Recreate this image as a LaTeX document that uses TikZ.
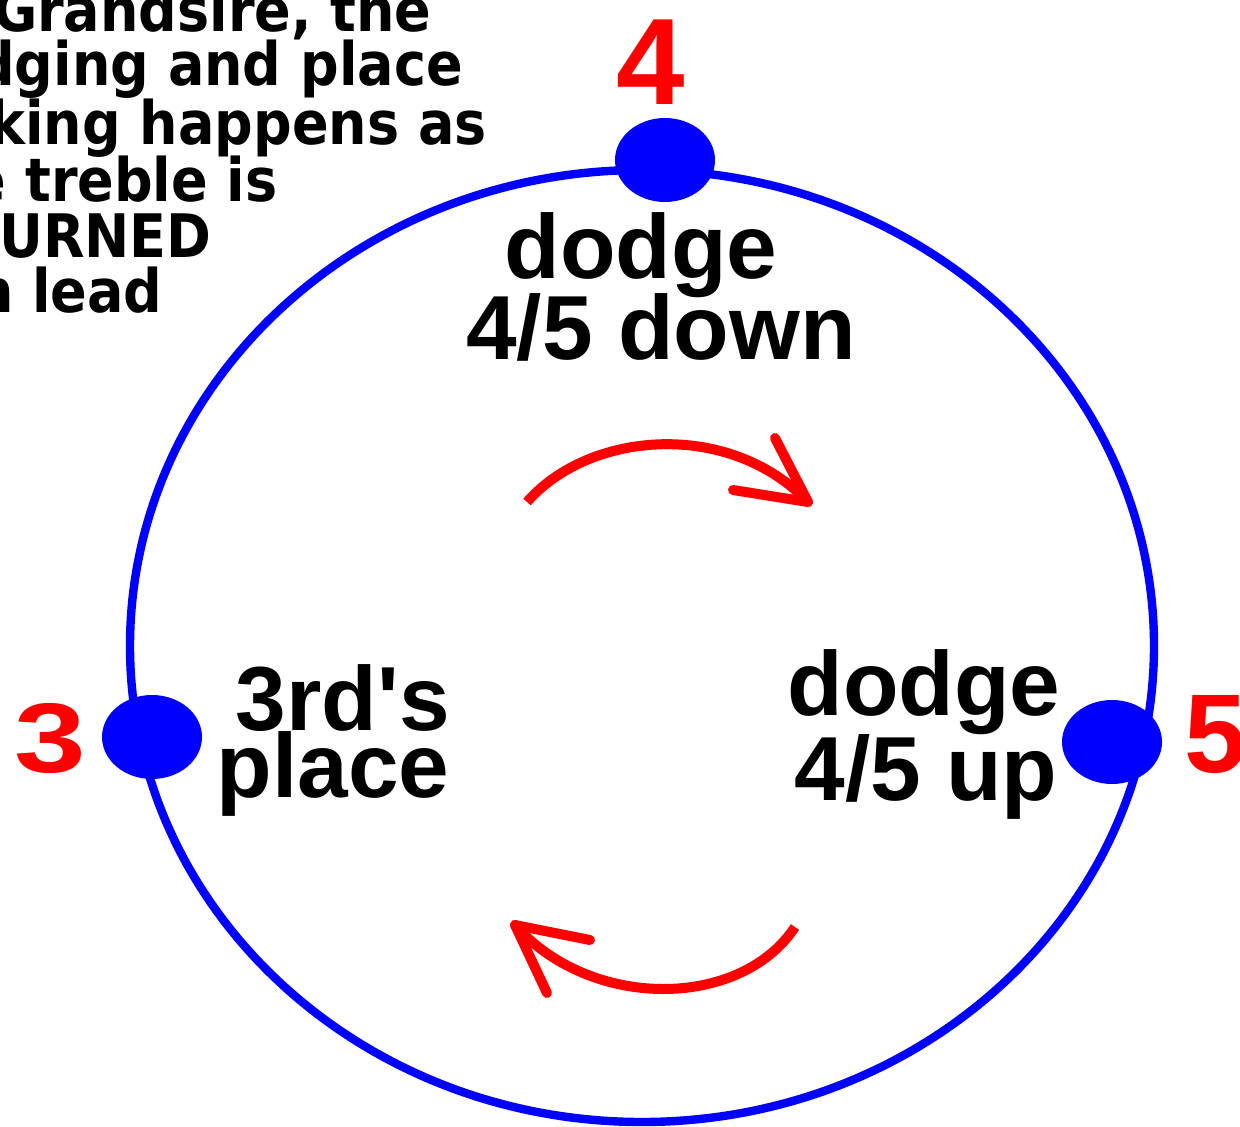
\documentclass[tikz,border=0pt]{standalone}
\usepackage{fontspec}
\setmainfont{Liberation Sans}
\newfontfamily\notefont{DejaVu Sans}[FakeStretch=0.9]
\usepackage{graphicx}
\usetikzlibrary{positioning, shapes.geometric}
\definecolor{bellblue}{RGB}{0,0,255}
\definecolor{bellred}{RGB}{255,0,0}

\begin{document}
\begin{tikzpicture}[x=0.5pt, y=-0.5pt,
    ring/.style={draw=bellblue, line width=4.2pt},
    bell/.style={ellipse, fill=bellblue, inner sep=0pt, minimum width=50pt, minimum height=42pt},
    num/.style={text=bellred, inner sep=0pt, anchor=base},
    lbl/.style={font=\fontsize{45.5pt}{50pt}\selectfont\bfseries, inner sep=0pt, anchor=base},
    note/.style={font=\notefont\fontsize{30pt}{34pt}\selectfont\bfseries, inner sep=0pt, anchor=base east},
    turn/.style={draw=bellred, line width=5pt}]
    \clip (0,0) rectangle (1240,1127);
    % the ring of places
    \draw[ring] (642,646) ellipse [x radius=512, y radius=476];
    \node[bell] (bell4) at (665,160) {};
    \node[bell] (bell3) at (152,737) {};
    \node[bell] (bell5) at (1112,742) {};
    \node[num, font=\fontsize{61.5pt}{62pt}\selectfont\bfseries] (num4) at (651,105) {4};
    \node[num, font=\fontsize{49.5pt}{50pt}\selectfont\bfseries] (num3) at (50,772) {\scalebox{1.3}[1]{3}};
    \node[num, font=\fontsize{56pt}{56pt}\selectfont\bfseries, anchor=base west] (num5) at (1184,772) {5};
    % what happens at each place
    \node[lbl] (down1) at (641,279) {dodge};
    \node[lbl] (down2) at (661,360) {4/5 down};
    \node[lbl, anchor=base east] (third1) at (450,730) {3rd\textquotesingle s};
    \node[lbl, anchor=base east] (third2) at (450,797) {place};
    \node[lbl] (up1) at (924,715) {dodge};
    \node[lbl] (up2) at (926,800) {4/5 up};
    % note, cut off at the left
    \node[note] (note1) at (432,32) {Grandsire, the};
    \node[note] (note2) at (463,86) {dging and place};
    \node[note] (note3) at (487,145) {king happens as};
    \node[note] (note4) at (278,202) {e treble is};
    \node[note] (note5) at (212,258) {URNED};
    \node[note] (note6) at (163,313) {n lead};
    % direction of travel
    \coordinate (cwtip) at (808,502);
    \coordinate (ccwtip) at (515,925);
    \draw[turn] (527,502) .. controls (590,430) and (730,420) .. (cwtip);
    \draw[turn, line cap=round] (cwtip) -- (775,438);
    \draw[turn, line cap=round] (cwtip) -- (733,490);
    \draw[turn] (795,927) .. controls (740,1010) and (590,1010) .. (ccwtip);
    \draw[turn, line cap=round] (ccwtip) -- (547,993);
    \draw[turn, line cap=round] (ccwtip) -- (590,940);
\end{tikzpicture}
\end{document}
